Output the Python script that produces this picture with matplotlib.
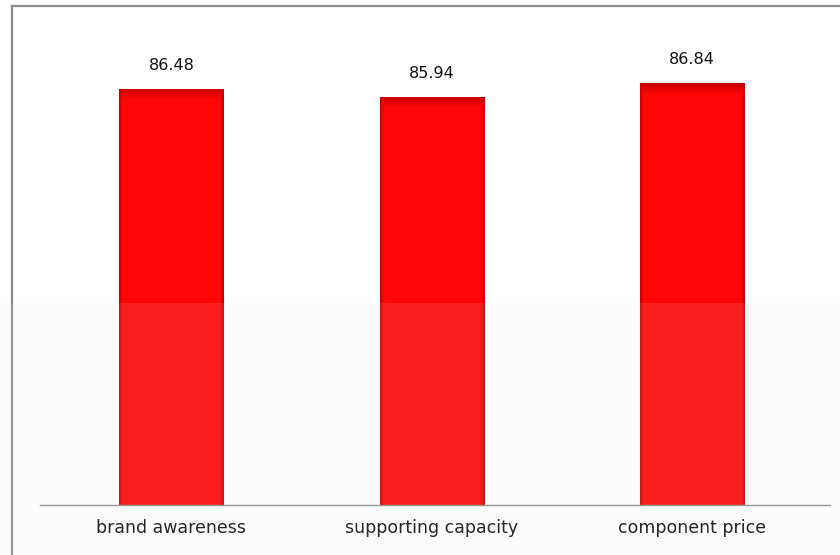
import numpy as np
import matplotlib
matplotlib.use("Agg")
import matplotlib.pyplot as plt
from matplotlib.lines import Line2D
from matplotlib.patches import Rectangle

# scores per factor
factors = ["brand awareness", "supporting capacity", "component price"]
scores = [86.48, 85.94, 86.84]

W, H = 840, 555
fig = plt.figure(figsize=(W / 100, H / 100), dpi=100)
fig.patch.set_facecolor("white")

# plot area in pixel terms: baseline at y=505, left 40, right 830
ax = fig.add_axes([40 / W, (H - 505) / H, 790 / W, 465 / H])
ax.set_facecolor("none")

ymin = 60
ymax = ymin + 465 / 15.72
bar_w = 0.40
x = np.arange(len(factors))

bars = ax.bar(x, scores, width=bar_w, bottom=0, color="#ff0000", zorder=2)

# bevel shading on each bar (slightly darker edges, bright middle)
nx, ny = 120, 400
px = np.linspace(0, 1, nx)
py = np.linspace(0, 1, ny)
fx = np.clip(np.minimum(px, 1 - px) / 0.035, 0, 1)
fy = np.clip((1 - py) / 0.025, 0, 1)
f = np.minimum(fx[None, :], fy[:, None])
shade = 0.78 + 0.22 * f
img = np.zeros((ny, nx, 3))
img[..., 0] = shade
img[..., 1] = 0.03 * f
img[..., 2] = 0.03 * f
for b, v in zip(bars, scores):
    im = ax.imshow(img, extent=[b.get_x(), b.get_x() + bar_w, ymin, v],
                   origin="lower", aspect="auto", zorder=3)
    im.set_clip_path(b)

ax.set_xlim(-0.505, 2.53)
ax.set_ylim(ymin, ymax)

# value labels above bars
for xi, v in zip(x, scores):
    ax.annotate(f"{v:.2f}", (xi, v), xytext=(0, 17), textcoords="offset points",
                ha="center", va="center", fontsize=11.5, color="#111111")

ax.set_xticks(x)
ax.set_xticklabels(factors, fontsize=12.5, color="#111111")
ax.tick_params(axis="x", length=0, pad=10)
ax.set_yticks([])
for s in ["top", "right", "left"]:
    ax.spines[s].set_visible(False)
ax.spines["bottom"].set_color("#8c8c8c")
ax.spines["bottom"].set_linewidth(1.0)
ax.spines["bottom"].set_zorder(4)

# faint haze over the lower part of the chart
fig.patches.append(Rectangle((0, 0), 1, (H - 303) / H, transform=fig.transFigure,
                             facecolor="#e6e6e6", alpha=0.1, edgecolor="none", zorder=5))

# outer chart frame (left and top edges)
fig.lines.append(Line2D([12 / W, 12 / W], [0, (H - 6) / H], transform=fig.transFigure,
                        color="#8c8c8c", linewidth=1.6))
fig.lines.append(Line2D([12 / W, 1], [(H - 6) / H, (H - 6) / H], transform=fig.transFigure,
                        color="#8c8c8c", linewidth=1.6))

fig.savefig("out.png", dpi=100)
